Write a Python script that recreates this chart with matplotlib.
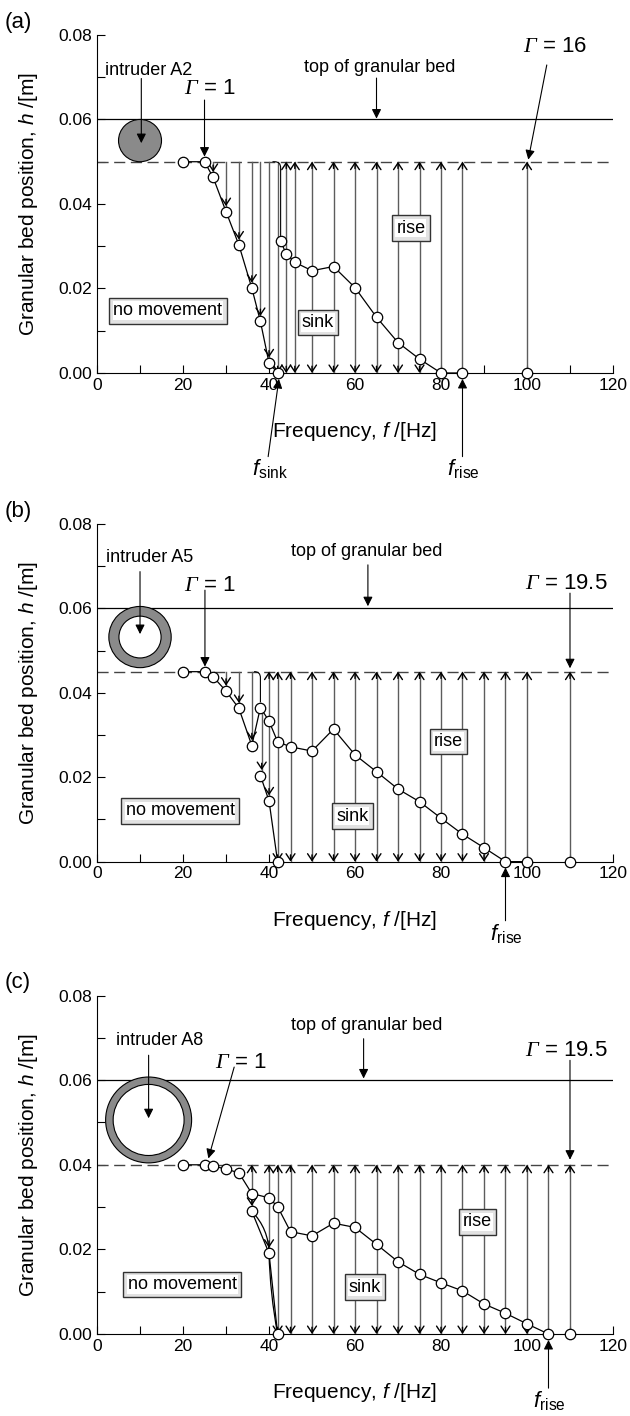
import matplotlib
matplotlib.use("Agg")
import matplotlib.pyplot as plt
from matplotlib.patches import Ellipse, FancyArrowPatch
from matplotlib.offsetbox import TextArea, AnnotationBbox

plt.rcParams['font.family'] = ['Liberation Sans', 'DejaVu Sans']
plt.rcParams['mathtext.fontset'] = 'custom'
plt.rcParams['mathtext.rm'] = 'Liberation Serif:italic'
plt.rcParams['mathtext.sf'] = 'Liberation Sans:italic'
plt.rcParams['xtick.direction'] = 'in'
plt.rcParams['ytick.direction'] = 'in'

# ---------------- data ----------------
# (a) intruder A2
a_top = 0.050
a_main_f = [20, 25, 27, 30, 33, 36, 38, 40, 42]
a_main_h = [0.050, 0.050, 0.0463, 0.0382, 0.0303, 0.0201, 0.0122, 0.0024, 0.0]
a_up_f = [42.7, 44, 46, 50, 55, 60, 65, 70, 75, 80, 85]
a_up_h = [0.0312, 0.0282, 0.0262, 0.0242, 0.0252, 0.0202, 0.0132, 0.0072, 0.0033, 0.0, 0.0]
a_extra_f = [100]
a_extra_h = [0.0]
a_sink_f = [27, 30, 33, 36, 38, 40]
a_sink_h = [0.0463, 0.0382, 0.0303, 0.0201, 0.0122, 0.0024]
a_down_f = [42]
a_both_f = [44, 46, 50, 55, 60, 65, 70, 75]
a_rise_f = [80, 85, 100]

# (b) intruder A5
b_top = 0.045
b_main_f = [20, 25, 27, 30, 33, 36, 38, 40, 42, 45, 50, 55, 60, 65, 70, 75, 80, 85, 90, 95, 100]
b_main_h = [0.045, 0.045, 0.0438, 0.0404, 0.0363, 0.0275, 0.0365, 0.0333, 0.0284, 0.0272,
            0.0262, 0.0314, 0.0253, 0.0213, 0.0172, 0.0142, 0.0103, 0.0065, 0.0033, 0.0, 0.0]
b_low_f = [38, 40, 42]
b_low_h = [0.0204, 0.0144, 0.0]
b_extra_f = [110]
b_extra_h = [0.0]
b_sink_f = [30, 33, 36]
b_sink_h = [0.0404, 0.0363, 0.0275]
b_drop = (38.3, 0.0365, 0.0204)
b_both_low = (40, 0.0144)
b_both_f = [42, 45, 50, 55, 60, 65, 70, 75, 80, 85, 90]
b_rise_f = [95, 100, 110]

# (c) intruder A8
c_top = 0.040
c_main_f = [20, 25, 27, 30, 33, 36, 40, 42, 45, 50, 55, 60, 65, 70, 75, 80, 85, 90, 95, 100, 105]
c_main_h = [0.040, 0.040, 0.0397, 0.039, 0.0381, 0.0332, 0.0322, 0.0301, 0.0242, 0.0232,
            0.0262, 0.0252, 0.0212, 0.0171, 0.0141, 0.0121, 0.0102, 0.0071, 0.0049, 0.0024, 0.0]
c_low_f = [36, 40, 42]
c_low_h = [0.0290, 0.0191, 0.0]
c_extra_f = [110]
c_extra_h = [0.0]
c_both_low_f = [36, 40]
c_both_low_h = [0.0290, 0.0191]
c_both_f = [42, 45, 50, 55, 60, 65, 70, 75, 80, 85, 90, 95, 100]
c_rise_f = [105, 110]

x_ticks = [0, 20, 40, 60, 80, 100, 120]
y_ticks = [0.00, 0.02, 0.04, 0.06, 0.08]

LC = '#5c5c5c'   # colour of the vertical arrow lines
MS = 7.5
GAP = 0.0013     # marker radius in data units
HEAD = '->,head_length=0.3,head_width=0.2'


def base_axes(rect, label):
    ax = fig.add_axes(rect)
    ax.set_xlim(0, 120)
    ax.set_ylim(0, 0.08)
    ax.set_xticks(x_ticks)
    ax.set_xticks(range(10, 120, 20), minor=True)
    ax.set_yticks(y_ticks)
    ax.set_yticks([0.01, 0.03, 0.05, 0.07], minor=True)
    ax.set_yticklabels(['%.2f' % v for v in y_ticks])
    ax.tick_params(which='both', length=6, width=0.8, labelsize=12.5)
    ax.spines['top'].set_visible(False)
    ax.spines['right'].set_visible(False)
    ax.set_xlabel('Frequency, $\\mathsf{f}$ /[Hz]', fontsize=15)
    ax.set_ylabel('Granular bed position, $\\mathsf{h}$ /[m]', fontsize=15)
    ax.xaxis.set_label_coords(0.5, -0.14)
    ax.yaxis.set_label_coords(-0.11, 0.5)
    fig.text(0.008, rect[1] + rect[3] + 0.009, label, fontsize=16, va='center')
    return ax


def levels(ax, top):
    ax.plot([0, 120], [0.06, 0.06], color='black', lw=0.9, zorder=2)
    ax.plot([0, 120], [top, top], color='#444444', lw=1.0, ls=(0, (8, 4)), zorder=2)


def head(ax, f, tip, up):
    d = -0.0016 if up else 0.0016
    ax.annotate('', xy=(f, tip), xytext=(f, tip + d), annotation_clip=False,
                arrowprops=dict(arrowstyle=HEAD, color='black', lw=1.0, shrinkA=0,
                                shrinkB=0, mutation_scale=16), zorder=4)


def varrow(ax, f, h0, h1, kind):
    # vertical line between h0 (low) and h1 (high) with open arrow heads
    ax.plot([f, f], [h0, h1], color=LC, lw=1.0, zorder=3)
    if kind in ('up', 'both'):
        head(ax, f, h1, True)
    if kind in ('down', 'both'):
        head(ax, f, h0, False)


def pointer(ax, f0, h0, f1, h1):
    ax.annotate('', xy=(f1, h1), xytext=(f0, h0), annotation_clip=False,
                arrowprops=dict(arrowstyle='-|>', color='black', lw=0.8, shrinkA=0,
                                shrinkB=0, mutation_scale=14), zorder=5)


def box(ax, f, h, s, pad):
    ta = TextArea(s, textprops=dict(fontsize=13,
                                    bbox=dict(boxstyle='square,pad=0.05', fc='white', ec='none')))
    ab = AnnotationBbox(ta, (f, h), frameon=True, pad=pad, zorder=6,
                        bboxprops=dict(boxstyle='square', fc='#e2e2e2', ec='#333333', lw=1.0))
    ax.add_artist(ab)


def series(ax, f, h, line=True):
    ax.plot(f, h, '-' if line else 'none', color='black', lw=0.9, marker='o', ms=MS,
            mfc='white', mec='black', mew=0.9, zorder=8, clip_on=False)


def gamma(ax, f, h, s):
    ax.text(f, h, '$\\Gamma$ = ' + s, ha='center', va='center', fontsize=16)


def hook(ax, f0, top, f1, h1):
    ax.add_patch(FancyArrowPatch((f0, top), (f1, h1), arrowstyle='-',
                                 connectionstyle='angle,angleA=0,angleB=90,rad=6',
                                 color='black', lw=0.8, shrinkA=0, shrinkB=4, zorder=3))


fig = plt.figure(figsize=(6.3, 14.16), dpi=100)

# ---------------- (a) ----------------
ax = base_axes([0.154, 0.7366, 0.819, 0.2387], '(a)')
levels(ax, a_top)
for f, h in zip(a_sink_f, a_sink_h):
    varrow(ax, f, h + GAP, a_top, 'down')
for f in a_down_f:
    varrow(ax, f, 0.0, a_top, 'down')
for f in a_both_f:
    varrow(ax, f, 0.0, a_top, 'both')
for f in a_rise_f:
    varrow(ax, f, GAP, a_top, 'up')
hook(ax, 40.9, a_top, a_up_f[0], a_up_h[0])
series(ax, a_main_f, a_main_h)
series(ax, a_up_f, a_up_h)
series(ax, a_extra_f, a_extra_h, line=False)
ax.add_patch(Ellipse((10, 0.055), 10, 0.0100, fc='#8a8a8a', ec='black', lw=0.8, zorder=4))
pointer(ax, 10.3, 0.0697, 10.3, 0.0544)
ax.text(11.9, 0.0717, 'intruder A2', ha='center', va='center', fontsize=13)
ax.text(65.8, 0.0722, 'top of granular bed', ha='center', va='center', fontsize=13)
pointer(ax, 65, 0.0698, 65, 0.0602)
gamma(ax, 26.3, 0.0674, '1')
pointer(ax, 25, 0.0646, 25, 0.0512)
gamma(ax, 106.5, 0.0772, '16')
pointer(ax, 104.6, 0.0729, 100.3, 0.0505)
box(ax, 16.5, 0.0147, 'no movement', 0.4)
box(ax, 51.4, 0.0120, 'sink', 0.6)
box(ax, 73.0, 0.0343, 'rise', 0.6)
ax.text(40.2, -0.0228, '$\\mathsf{f}_{\\mathregular{sink}}$', ha='center', va='center', fontsize=16)
pointer(ax, 39.8, -0.0198, 42.3, -0.0014)
ax.text(85.3, -0.0228, '$\\mathsf{f}_{\\mathregular{rise}}$', ha='center', va='center', fontsize=16)
pointer(ax, 85, -0.0198, 85, -0.0014)

# ---------------- (b) ----------------
ax = base_axes([0.154, 0.3915, 0.819, 0.2385], '(b)')
levels(ax, b_top)
for f, h in zip(b_sink_f, b_sink_h):
    varrow(ax, f, h + GAP, b_top, 'down')
varrow(ax, b_drop[0], b_drop[2] + GAP, b_drop[1] - GAP, 'down')
varrow(ax, b_both_low[0], b_both_low[1] + GAP, b_top, 'both')
for f in b_both_f:
    varrow(ax, f, 0.0, b_top, 'both')
for f in b_rise_f:
    varrow(ax, f, GAP, b_top, 'up')
hook(ax, 36.6, b_top, 38, 0.0365)
series(ax, b_main_f, b_main_h)
series(ax, b_low_f, b_low_h)
series(ax, b_extra_f, b_extra_h, line=False)
ax.add_patch(Ellipse((10, 0.0532), 14.5, 0.0145, fc='#8a8a8a', ec='black', lw=0.8, zorder=4))
ax.add_patch(Ellipse((10, 0.0532), 9.8, 0.0099, fc='white', ec='black', lw=0.8, zorder=4))
pointer(ax, 10, 0.0687, 10, 0.0539)
ax.text(12.2, 0.0721, 'intruder A5', ha='center', va='center', fontsize=13)
ax.text(62.7, 0.0734, 'top of granular bed', ha='center', va='center', fontsize=13)
pointer(ax, 63, 0.0703, 63, 0.0605)
gamma(ax, 26.3, 0.0655, '1')
pointer(ax, 25.1, 0.0643, 25.1, 0.0462)
gamma(ax, 109.2, 0.0660, '19.5')
pointer(ax, 110, 0.0636, 110, 0.0458)
box(ax, 19.3, 0.0120, 'no movement', 0.4)
box(ax, 59.4, 0.0108, 'sink', 0.6)
box(ax, 81.7, 0.0284, 'rise', 0.6)
ax.text(95.3, -0.0172, '$\\mathsf{f}_{\\mathregular{rise}}$', ha='center', va='center', fontsize=16)
pointer(ax, 95, -0.0140, 95, -0.0014)

# ---------------- (c) ----------------
ax = base_axes([0.154, 0.0579, 0.819, 0.239], '(c)')
levels(ax, c_top)
for f, h in zip(c_both_low_f, c_both_low_h):
    varrow(ax, f, h + GAP, c_top, 'both')
for f in c_both_f:
    varrow(ax, f, 0.0, c_top, 'both')
for f in c_rise_f:
    varrow(ax, f, GAP, c_top, 'up')
series(ax, c_main_f, c_main_h)
# lower branch: bent first segment, then nearly straight drop
ax.add_patch(FancyArrowPatch((c_low_f[0], c_low_h[0]), (c_low_f[1], c_low_h[1]),
                             arrowstyle='-', connectionstyle='arc3,rad=-0.2',
                             color='black', lw=0.9, shrinkA=0, shrinkB=0, zorder=7))
ax.add_patch(FancyArrowPatch((c_low_f[1], c_low_h[1]), (c_low_f[2], c_low_h[2]),
                             arrowstyle='-', connectionstyle='arc3,rad=0.04',
                             color='black', lw=0.9, shrinkA=0, shrinkB=0, zorder=7))
series(ax, c_low_f, c_low_h, line=False)
series(ax, c_extra_f, c_extra_h, line=False)
ax.add_patch(Ellipse((12, 0.0506), 20, 0.0203, fc='#8a8a8a', ec='black', lw=0.8, zorder=4))
ax.add_patch(Ellipse((12, 0.0506), 16.5, 0.0168, fc='white', ec='black', lw=0.8, zorder=4))
pointer(ax, 12, 0.0659, 12, 0.0510)
ax.text(14.5, 0.0695, 'intruder A8', ha='center', va='center', fontsize=13)
ax.text(62.7, 0.0730, 'top of granular bed', ha='center', va='center', fontsize=13)
pointer(ax, 62, 0.0698, 62, 0.0604)
gamma(ax, 33.4, 0.0643, '1')
pointer(ax, 31.9, 0.0631, 25.9, 0.0415)
gamma(ax, 109.2, 0.0671, '19.5')
pointer(ax, 110, 0.0647, 110, 0.0412)
box(ax, 19.8, 0.0117, 'no movement', 0.4)
box(ax, 62.3, 0.0111, 'sink', 0.6)
box(ax, 88.5, 0.0265, 'rise', 0.6)
ax.text(105.3, -0.0158, '$\\mathsf{f}_{\\mathregular{rise}}$', ha='center', va='center', fontsize=16)
pointer(ax, 105, -0.0128, 105, -0.0014)

fig.savefig('out.png', dpi=100)
